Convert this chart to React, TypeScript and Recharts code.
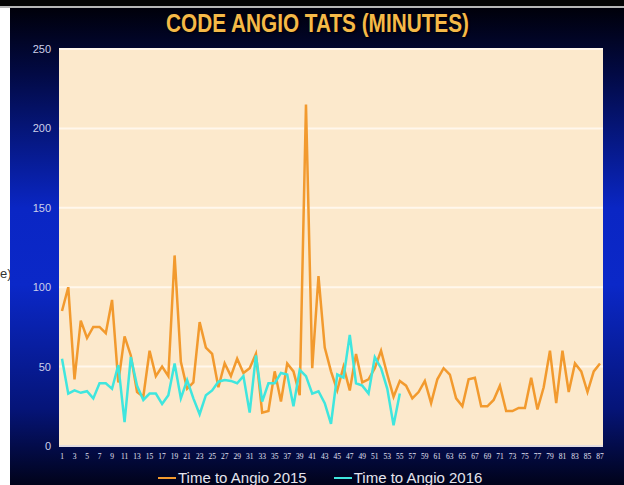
import React from "react";
import { LineChart, Line, XAxis, YAxis, CartesianGrid, Legend } from "recharts";

const categories: string[] = [
  "1","2","3","4","5","6","7","8","9","10","11","12","13","14","15","16","17","18","19","20",
  "21","22","23","24","25","26","27","28","29","30","31","32","33","34","35","36","37","38","39","40",
  "41","42","43","44","45","46","47","48","49","50","51","52","53","54","55","56","57","58","59","60",
  "61","62","63","64","65","66","67","68","69","70","71","72","73","74","75","76","77","78","79","80",
  "81","82","83","84","85","86","87",
];

const angio2015: number[] = [
  85, 100, 42, 79, 68, 75, 75, 71, 92, 40,
  69, 57, 34, 31, 60, 44, 50, 44, 120, 53,
  36, 40, 78, 62, 58, 37, 52, 44, 55, 46,
  49, 58, 21, 22, 47, 28, 52, 47, 32, 215,
  49, 107, 62, 47, 35, 50, 35, 58, 40, 42,
  49, 60, 45, 31, 41, 38, 30, 34, 41, 27,
  42, 49, 45, 30, 25, 42, 43, 25, 25, 29,
  38, 22, 22, 24, 24, 43, 23, 37, 60, 27,
  60, 34, 52, 47, 34, 47, 52,
];

const angio2016: number[] = [
  55, 33, 35, 33.5, 34.5, 30, 39.5, 39.5, 36, 51,
  15, 56, 38, 29, 33, 33, 26.5, 32, 52, 30,
  41.5, 30, 20, 32, 35, 40.5, 41.5, 41, 39.5, 44,
  21, 57, 28, 39.5, 39.5, 46, 45, 25, 48, 44,
  33, 34.5, 27, 14, 45, 43, 70, 39.5, 38, 33,
  56, 49, 36, 13, 33,
];

const yTicks: number[] = [0, 50, 100, 150, 200, 250];

const seriesNames = ["Time to Angio 2015", "Time to Angio 2016"];

const data = categories.map((c, i) => ({
  cat: c,
  a2015: angio2015[i],
  a2016: i < angio2016.length ? angio2016[i] : null,
}));

const renderLegend = (props: any) => {
  const { payload } = props;
  return (
    <div
      style={{
        display: "flex",
        flexDirection: "row",
        paddingLeft: 148,
        paddingTop: 8,
        height: 23,
        boxSizing: "border-box",
        fontFamily: "'Liberation Sans', Arial, sans-serif",
        fontSize: 15,
        color: "#e4e4ee",
        lineHeight: "15px",
        whiteSpace: "nowrap",
      }}
    >
      {(payload || []).map((p: any, idx: number) => (
        <div
          key={idx}
          style={{ display: "flex", alignItems: "center", marginRight: idx === 0 ? 27 : 0 }}
        >
          <div style={{ width: 18, height: 2, background: p.color, marginRight: 2 }} />
          <span>{p.value}</span>
        </div>
      ))}
    </div>
  );
};

export default function App() {
  return (
    <div
      style={{
        position: "absolute",
        left: 0,
        top: 0,
        width: 624,
        height: 485,
        background: "#ffffff",
        overflow: "hidden",
      }}
    >
      <div style={{ position: "absolute", left: 0, top: 0, width: 624, height: 6, background: "#050505" }} />
      <div style={{ position: "absolute", left: 0, top: 6, width: 624, height: 2, background: "#b8b8b8" }} />
      <div
        style={{
          position: "absolute",
          left: 0,
          top: 266,
          fontFamily: "'Liberation Sans', Arial, sans-serif",
          fontSize: 13,
          color: "#333",
        }}
      >
        e)
      </div>
      <div
        style={{
          position: "absolute",
          left: 10,
          top: 8,
          width: 614,
          height: 477,
          background:
            "linear-gradient(to bottom, #00000a 0%, #020a45 14%, #0a26c4 42%, #0b28c8 58%, #051478 84%, #01031a 100%)",
        }}
      >
        <div
          style={{
            position: "absolute",
            left: 0,
            top: 1,
            width: 614,
            textAlign: "center",
            fontFamily: "'Liberation Sans', Arial, sans-serif",
            fontWeight: "bold",
            fontSize: 25,
            color: "#F5B948",
            textShadow: "1px 1px 2px #000",
            transform: "scaleX(0.83)",
            transformOrigin: "310px 0",
            whiteSpace: "nowrap",
          }}
        >
          CODE ANGIO TATS (MINUTES)
        </div>
        <LineChart
          width={614}
          height={477}
          data={data}
          margin={{ top: 41, right: 21, bottom: 0, left: 0 }}
        >
          <CartesianGrid
            vertical={false}
            fill="#FCE9CC"
            stroke="#FFF7EC"
            strokeWidth={2}
          />
          <XAxis
            dataKey="cat"
            interval={1}
            height={16}
            padding={{ left: 3, right: 3 }}
            tickLine={false}
            axisLine={{ stroke: "#d8d4dc", strokeWidth: 1.5 }}
            tick={{ fill: "#e4e4f4", fontSize: 7.5, fontFamily: "'Liberation Serif', 'Times New Roman', serif" }}
          />
          <YAxis
            width={49}
            domain={[0, 250]}
            ticks={yTicks}
            tickLine={false}
            axisLine={false}
            tick={{ fill: "#cdd0ea", fontSize: 11, fontFamily: "'Liberation Sans', Arial, sans-serif" }}
          />
          <Legend
            verticalAlign="bottom"
            content={renderLegend}
            wrapperStyle={{ height: 23 }}
          />
          <Line
            type="linear"
            dataKey="a2015"
            name={seriesNames[0]}
            stroke="#F29A2E"
            strokeWidth={2.5}
            dot={false}
            isAnimationActive={false}
          />
          <Line
            type="linear"
            dataKey="a2016"
            name={seriesNames[1]}
            stroke="#3FE6DE"
            strokeWidth={2.5}
            dot={false}
            connectNulls={false}
            isAnimationActive={false}
          />
        </LineChart>
      </div>
    </div>
  );
}
